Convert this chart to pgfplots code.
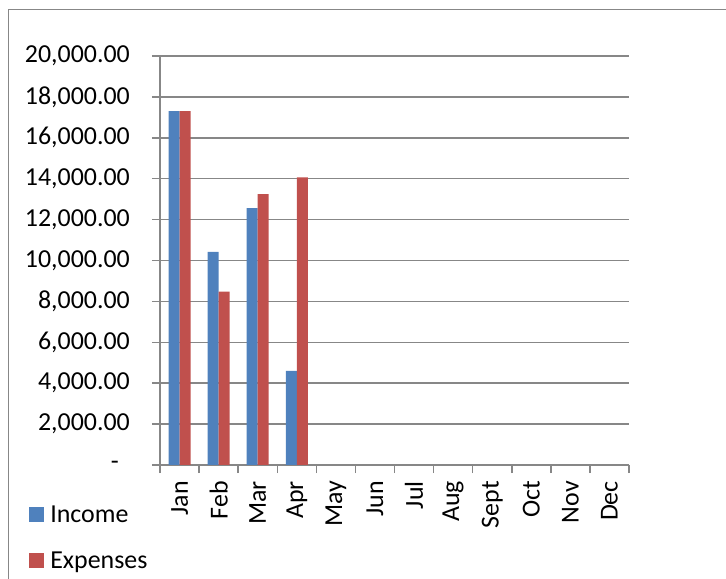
\documentclass[border=0pt]{standalone}
\usepackage{pgfplots}
\pgfplotsset{compat=1.18}
\usepackage{fontspec}
\setmainfont{Carlito}
\definecolor{inc}{HTML}{4F81BD}
\definecolor{expc}{HTML}{C0504D}
\definecolor{gridc}{HTML}{878787}
\begin{document}
\begin{tikzpicture}[font=\fontsize{26}{31}\selectfont]
\useasboundingbox (0,0) rectangle (726bp,579bp);
\draw[gridc, line width=1.5bp] (8.5bp,-5bp) -- (8.5bp,569.5bp) -- (740bp,569.5bp);
\begin{axis}[
  at={(160bp,114bp)}, anchor=south west,
  scale only axis, width=469bp, height=409bp,
  xmin=0.5, xmax=12.5, ymin=0, ymax=20000,
  scaled y ticks=false,
  axis x line*=bottom, axis y line*=left,
  axis line style={gridc, line width=1.5bp},
  ybar=0pt, bar width=11bp,
  xtick={0.5,1.5,...,12.5}, x tick label as interval,
  xticklabels={Jan,Feb,Mar,Apr,May,Jun,Jul,Aug,Sept,Oct,Nov,Dec},
  ytick={0,2000,...,20000},
  yticklabels={{\hbox{-\kern11bp}},{2,000.00},{4,000.00},{6,000.00},{8,000.00},{10,000.00},{12,000.00},{14,000.00},{16,000.00},{18,000.00},{20,000.00}},
  ymajorgrids, grid style={gridc, line width=1.5bp},
  tick style={gridc, line width=1.5bp},
  tick align=outside, major tick length=8bp,
  xticklabel shift=8bp, yticklabel shift=22bp,
  xticklabel style={rotate=90, anchor=east, inner sep=0pt},
  yticklabel style={anchor=east, inner sep=0pt},
  legend style={at={(-0.279,-0.099)}, anchor=north west, draw=none, fill=none,
    inner sep=0pt, row sep=28bp, font=\fontsize{26}{31}\selectfont,
    nodes={inner sep=0pt}, column sep=6bp},
  legend cell align=left,
  sq/.style={legend image code/.code={\fill[##1] (0bp,-7.5bp) rectangle (15bp,7.5bp);}},
]
\addplot[fill=inc, draw=none, sq] coordinates {(1,17300) (2,10420) (3,12560) (4,4600)};
\addplot[fill=expc, draw=none, sq] coordinates {(1,17300) (2,8480) (3,13240) (4,14060)};
\legend{Income,Expenses}
\end{axis}
\end{tikzpicture}
\end{document}
